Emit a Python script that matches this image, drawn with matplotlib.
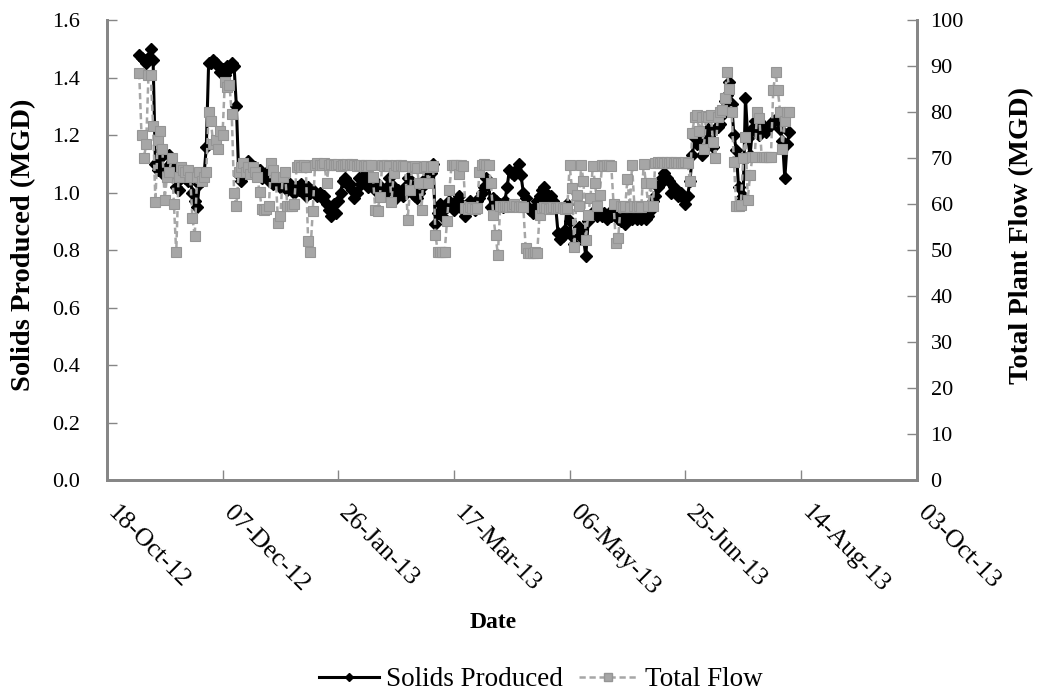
import numpy as np
import pandas as pd
import matplotlib
matplotlib.use("Agg")
import matplotlib.pyplot as plt
import matplotlib.dates as mdates
from matplotlib.lines import Line2D
from matplotlib.ticker import MultipleLocator, FormatStrFormatter

plt.rcParams['font.family'] = ['Liberation Serif', 'DejaVu Serif']

# Daily records starting 1 Nov 2012
start_date = "2012-11-01"

solids_produced = [
    1.48, 1.47, 1.46, 1.45, 1.47, 1.50, 1.46, 1.10, 1.08, 1.12,
    1.07, 1.06, 1.09, 1.13, 1.10, 1.07, 1.02, 1.01, 1.05, 1.06,
    1.05, 1.04, 1.05, 1.00, 0.97, 0.95, 1.03, 1.04, 1.06, 1.16,
    1.45, 1.45, 1.46, 1.45, 1.44, 1.42, 1.43, 1.41, 1.44, 1.43,
    1.45, 1.44, 1.30, 1.06, 1.04, 1.07, 1.09, 1.11, 1.10, 1.08,
    1.09, 1.07, 1.08, 1.05, 1.06, 1.07, 1.04, 1.05, 1.03, 1.05,
    1.04, 1.02, 1.04, 1.03, 1.01, 1.03, 1.02, 1.00, 1.02, 1.01,
    1.03, 1.00, 0.99, 1.02, 1.00, 1.01, 1.00, 0.99, 1.00, 0.98,
    0.99, 0.96, 0.94, 0.92, 0.96, 0.93, 0.97, 1.00, 1.04, 1.05,
    1.03, 1.03, 1.01, 0.98, 1.00, 1.05, 1.03, 1.06, 1.04, 1.02,
    1.04, 1.03, 1.01, 1.03, 1.02, 1.00, 0.99, 1.02, 1.05, 1.03,
    1.00, 0.98, 1.01, 1.00, 0.99, 1.02, 1.05, 1.03, 1.01, 0.99,
    0.98, 1.00, 1.02, 1.03, 1.05, 1.04, 1.07, 1.10, 0.89, 0.93,
    0.96, 0.94, 0.91, 0.95, 0.97, 0.96, 0.94, 0.97, 0.99, 0.96,
    0.94, 0.92, 0.95, 0.97, 0.96, 0.94, 0.97, 0.98, 1.00, 1.02,
    1.05, 1.03, 0.95, 0.98, 0.97, 0.95, 0.96, 0.95, 0.97, 1.02,
    1.08, 1.07, 1.06, 1.08, 1.10, 1.06, 1.00, 0.98, 0.95, 0.94,
    0.93, 0.95, 0.97, 0.99, 1.01, 1.02, 0.98, 0.99, 0.99, 0.97,
    0.95, 0.86, 0.84, 0.85, 0.87, 0.96, 0.90, 0.85, 0.82, 0.86,
    0.88, 0.87, 0.84, 0.78, 0.90, 0.92, 0.93, 0.94, 0.92, 0.93,
    0.92, 0.93, 0.91, 0.93, 0.92, 0.94, 0.92, 0.91, 0.90, 0.92,
    0.89, 0.91, 0.92, 0.91, 0.92, 0.91, 0.92, 0.91, 0.92, 0.91,
    0.92, 0.94, 0.97, 0.99, 1.02, 1.03, 1.05, 1.07, 1.05, 1.04,
    1.00, 1.02, 1.01, 0.99, 1.00, 0.98, 0.96, 0.99, 1.04, 1.13,
    1.19, 1.17, 1.18, 1.13, 1.16, 1.19, 1.22, 1.18, 1.16, 1.22,
    1.23, 1.24, 1.27, 1.32, 1.34, 1.385, 1.31, 1.20, 1.15, 1.02,
    0.97, 0.99, 1.33, 1.19, 1.13, 1.22, 1.25, 1.23, 1.20, 1.24,
    1.22, 1.21, 1.23, 1.24, 1.25, 1.255, 1.25, 1.22, 1.18, 1.05,
    1.17, 1.21,
]

total_flow = [
    88.5, 75, 70, 73, 88, 88, 77, 60.5, 74, 76,
    72, 61, 66, 67, 70, 60, 49.5, 66, 68, 67.5,
    67, 67.5, 66, 57, 53, 66, 67, 65, 66, 67,
    80, 78, 73, 74, 72, 76, 75, 86.5, 85.5, 86,
    79.5, 62.5, 59.5, 67, 68, 69, 67, 68, 66.5, 68,
    67, 66, 62.7, 59, 58.8, 59, 59.5, 69, 67.5, 66,
    56, 57.5, 66, 67, 59.5, 59.5, 59.5, 60, 68, 68.5,
    68, 68.5, 68, 52, 49.7, 58.6, 68.5, 69, 68.5, 68.5,
    69, 64.6, 68.5, 68.8, 68.6, 68.5, 68.7, 68.4, 68.6, 68.5,
    68.7, 68.5, 68.8, 68.5, 68.2, 68.5, 68.6, 68.4, 68.5, 68.3,
    68.5, 66, 58.8, 58.5, 61.6, 68.5, 68.2, 68.5, 68.4, 60.5,
    66.8, 68.5, 68.3, 68.5, 68.4, 68.2, 56.6, 63, 68, 68.3,
    67.8, 64.5, 58.8, 68, 68.2, 64.5, 68, 68.3, 53.4, 49.7,
    49.5, 49.7, 49.5, 56.4, 63, 68.5, 68.6, 68.5, 66.5, 68.5,
    68.4, 59.2, 59, 59.3, 59.2, 59, 59.2, 67, 68.5, 68.7,
    68.5, 68.6, 64.5, 57.6, 53.4, 49, 59.5, 59.3, 59.5, 59.6,
    59.4, 59.5, 60, 59.5, 59.3, 59.5, 59.4, 50.5, 49.4, 49.3,
    49.4, 49.5, 49.4, 57.6, 59.2, 59.3, 59.2, 59, 59.2, 59.3,
    59.2, 59.1, 59.3, 59.2, 59, 59.2, 68.5, 63.5, 50.8, 62,
    59.5, 68.5, 65, 52.3, 57.6, 61.4, 68.2, 64.5, 59.5, 61.9,
    68.5, 68.3, 68.5, 68.6, 68.4, 60, 51.6, 52.6, 59.5, 59.3,
    59.5, 65.5, 59.4, 68.5, 59.5, 59.3, 59.5, 59.4, 68.8, 64.5,
    59.5, 64.5, 59.5, 69, 69.2, 69, 69.1, 69, 69.2, 69,
    69.1, 69, 69.2, 69, 69, 69, 69.2, 69, 65, 75.5,
    79, 79.3, 76, 79, 72, 79.2, 79, 79.3, 73.5, 70,
    79, 80, 80.5, 83, 88.7, 85, 80, 69.2, 59.5, 59.5,
    59.8, 70, 74.6, 61, 66.4, 70.3, 70.2, 80, 78.8, 70.3,
    70.3, 70.2, 70.3, 70.3, 84.8, 88.7, 84.8, 80, 72, 78,
    80, 80,
]

solids_dates = pd.date_range(start_date, periods=len(solids_produced), freq="D")
flow_dates = pd.date_range(start_date, periods=len(total_flow), freq="D")

axis_grey = "#868686"
flow_grey = "#A6A6A6"
flow_edge = "#959595"
flow_dash = (0, (2.5, 1.5))

fig = plt.figure(figsize=(10.37, 6.94), dpi=100)
ax = fig.add_axes([0.103, 0.308, 0.781, 0.663])
ax2 = ax.twinx()

ax.plot(solids_dates, solids_produced, color="black", lw=2.2,
        marker="D", markersize=5.8, markerfacecolor="black",
        markeredgecolor="black", zorder=3)
ax2.plot(flow_dates, total_flow, color=flow_grey, lw=1.8, ls=flow_dash,
         marker="s", markersize=6.8, markerfacecolor=flow_grey,
         markeredgecolor=flow_edge, markeredgewidth=0.8, zorder=3)

# x axis: 50-day steps from 18-Oct-12 to 03-Oct-13
x0 = pd.Timestamp("2012-10-18")
x1 = pd.Timestamp("2013-10-03")
ax.set_xlim(x0, x1)
ax.set_xticks(pd.date_range(x0, x1, freq="50D"))
ax.xaxis.set_major_formatter(mdates.DateFormatter("%d-%b-%y"))
for lbl in ax.get_xticklabels():
    lbl.set_rotation(-45)
    lbl.set_ha("left")
    lbl.set_va("baseline")
    lbl.set_rotation_mode("anchor")
    lbl.set_fontsize(18.5)

ax.set_ylim(0, 1.6)
ax.yaxis.set_major_locator(MultipleLocator(0.2))
ax.yaxis.set_major_formatter(FormatStrFormatter("%.1f"))
ax2.set_ylim(0, 100)
ax2.yaxis.set_major_locator(MultipleLocator(10))

for a in (ax, ax2):
    a.spines["top"].set_visible(False)
    for s in ("left", "right", "bottom"):
        a.spines[s].set_color(axis_grey)
        a.spines[s].set_linewidth(2.0)
    a.tick_params(colors=axis_grey, labelcolor="black",
                  direction="in", length=7, width=1.0)
ax.tick_params(axis="x", pad=24)
ax.tick_params(axis="y", pad=19, labelsize=16)
ax2.tick_params(axis="y", pad=10, labelsize=16)

fig.text(493 / 1037, 1 - 623 / 694, "Date", fontsize=17, fontweight="bold",
         ha="center", va="center")
fig.text(24 / 1037, 1 - 245 / 694, "Solids Produced (MGD)", fontsize=20.5,
         fontweight="bold", rotation=90, ha="center", va="center")
fig.text(1022 / 1037, 1 - 236 / 694, "Total Plant Flow (MGD)", fontsize=20.5,
         fontweight="bold", rotation=90, ha="center", va="center")

handles = [
    Line2D([], [], color="black", lw=2.2, marker="D", markersize=4.5),
    Line2D([], [], color=flow_grey, lw=1.8, ls=flow_dash, marker="s",
           markersize=6, markerfacecolor=flow_grey, markeredgecolor=flow_edge),
]
fig.legend(handles, ["Solids Produced", "Total Flow"], loc="center",
           bbox_to_anchor=(541 / 1037, 1 - 680 / 694), ncol=2, frameon=False,
           fontsize=19.5, handlelength=2.2, columnspacing=0.6,
           handletextpad=0.25, borderpad=0.0)

fig.savefig("out.png", dpi=100)
